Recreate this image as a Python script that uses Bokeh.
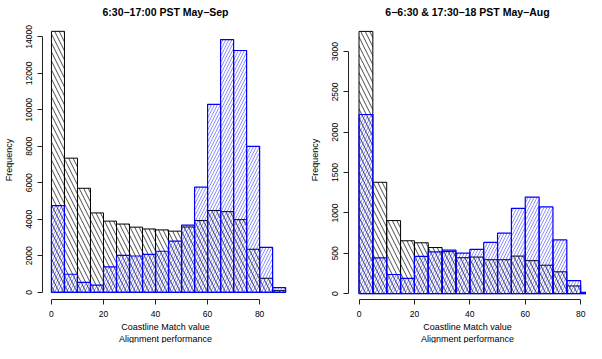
from bokeh.plotting import figure
from bokeh.layouts import row
from bokeh.models import FixedTicker, Range1d, Title
from bokeh.embed import file_html
from bokeh.resources import INLINE

# ---- data ----
left_title = "6:30\u221217:00 PST May\u2212Sep"
right_title = "6\u22126:30 & 17:30\u221218 PST May\u2212Aug"
x_label_lines = ["Coastline Match value", "Alignment performance"]
y_label = "Frequency"

left_edges = list(range(0, 95, 5))          # 0..90
left_black = [14300, 7350, 5700, 4350, 3900, 3740, 3570, 3470, 3420, 3350,
              3580, 3930, 4480, 4420, 3980, 2360, 770, 90]
left_blue = [4750, 990, 540, 390, 1390, 2020, 1990, 2080, 2250, 2800,
             3680, 5760, 10300, 13850, 13250, 8000, 2460, 260]

right_edges = list(range(0, 90, 5))         # 0..85
right_black = [3250, 1380, 905, 655, 630, 571, 520, 445, 453, 420,
               420, 465, 408, 352, 270, 95, 5]
right_blue = [2220, 444, 237, 190, 461, 518, 540, 503, 548, 635,
              750, 1057, 1197, 1075, 665, 160, 16]

x_ticks = [0, 20, 40, 60, 80]
left_yticks = [0, 2000, 4000, 6000, 8000, 10000, 12000, 14000]
right_yticks = [0, 500, 1000, 1500, 2000, 2500, 3000]

FONT = "Liberation Sans"
BLUE = "#0000ff"


def panel(title, edges, black, blue, yticks, width, height, xr, yr, mbl, mbr, toff):
    p = figure(width=width, height=height, output_backend="svg",
               toolbar_location=None, x_range=Range1d(*xr), y_range=Range1d(*yr),
               min_border_left=mbl, min_border_right=mbr,
               min_border_top=19, min_border_bottom=44)
    p.outline_line_color = None
    p.grid.visible = False
    p.background_fill_color = "white"

    p.title.text = title
    p.title.text_font = FONT
    p.title.text_font_size = "10.5px"
    p.title.text_font_style = "bold"
    p.title.align = "center"
    p.title.text_color = "black"
    p.title.standoff = 6
    p.title.offset = toff

    left = edges[:-1]
    right = edges[1:]
    p.quad(left=left, right=right, bottom=0, top=black,
           fill_alpha=0, line_color="black", line_width=1,
           hatch_pattern="\\", hatch_color="black", hatch_scale=9,
           hatch_weight=0.7)
    p.quad(left=left, right=right, bottom=0, top=blue,
           fill_alpha=0, line_color=BLUE, line_width=1.2,
           hatch_pattern="/", hatch_color=BLUE, hatch_scale=6,
           hatch_weight=0.55, hatch_alpha=0.8)

    for ax in (p.xaxis[0], p.yaxis[0]):
        ax.axis_line_color = "#222"
        ax.major_tick_line_color = "#222"
        ax.minor_tick_line_color = None
        ax.major_tick_out = 5
        ax.major_tick_in = 0
        ax.major_label_text_font = FONT
        ax.major_label_text_font_size = "8.5px"
        ax.major_label_text_color = "black"
        ax.axis_label_text_font = FONT
        ax.axis_label_text_font_size = "9px"
        ax.axis_label_text_font_style = "normal"
        ax.axis_label_text_color = "black"

    p.xaxis.ticker = FixedTicker(ticks=x_ticks)
    p.xaxis.bounds = (x_ticks[0], x_ticks[-1])
    p.xaxis.major_label_standoff = 6

    for i, txt in enumerate(x_label_lines):
        t = Title(text=txt, align="center", text_font=FONT,
                  text_font_size="9px", text_font_style="normal",
                  text_color="black", standoff=0, offset=toff)
        p.add_layout(t, "below")

    p.yaxis.ticker = FixedTicker(ticks=yticks)
    p.yaxis.bounds = (yticks[0], yticks[-1])
    p.yaxis.axis_label = y_label
    p.yaxis.major_label_orientation = "vertical"
    p.yaxis.major_label_standoff = 5
    p.yaxis.axis_label_standoff = 10
    return p


p1 = panel(left_title, left_edges, left_black, left_blue, left_yticks,
           288, 343, (-3.44, 91.1), (-394, 14893), 41, 0, 2)
p2 = panel(right_title, right_edges, right_black, right_blue, right_yticks,
           298, 343, (-3.79, 82.1), (-73, 3385), 60, 0, 10)

layout = row(p1, p2)
open("out.html", "w").write(file_html(layout, INLINE))
